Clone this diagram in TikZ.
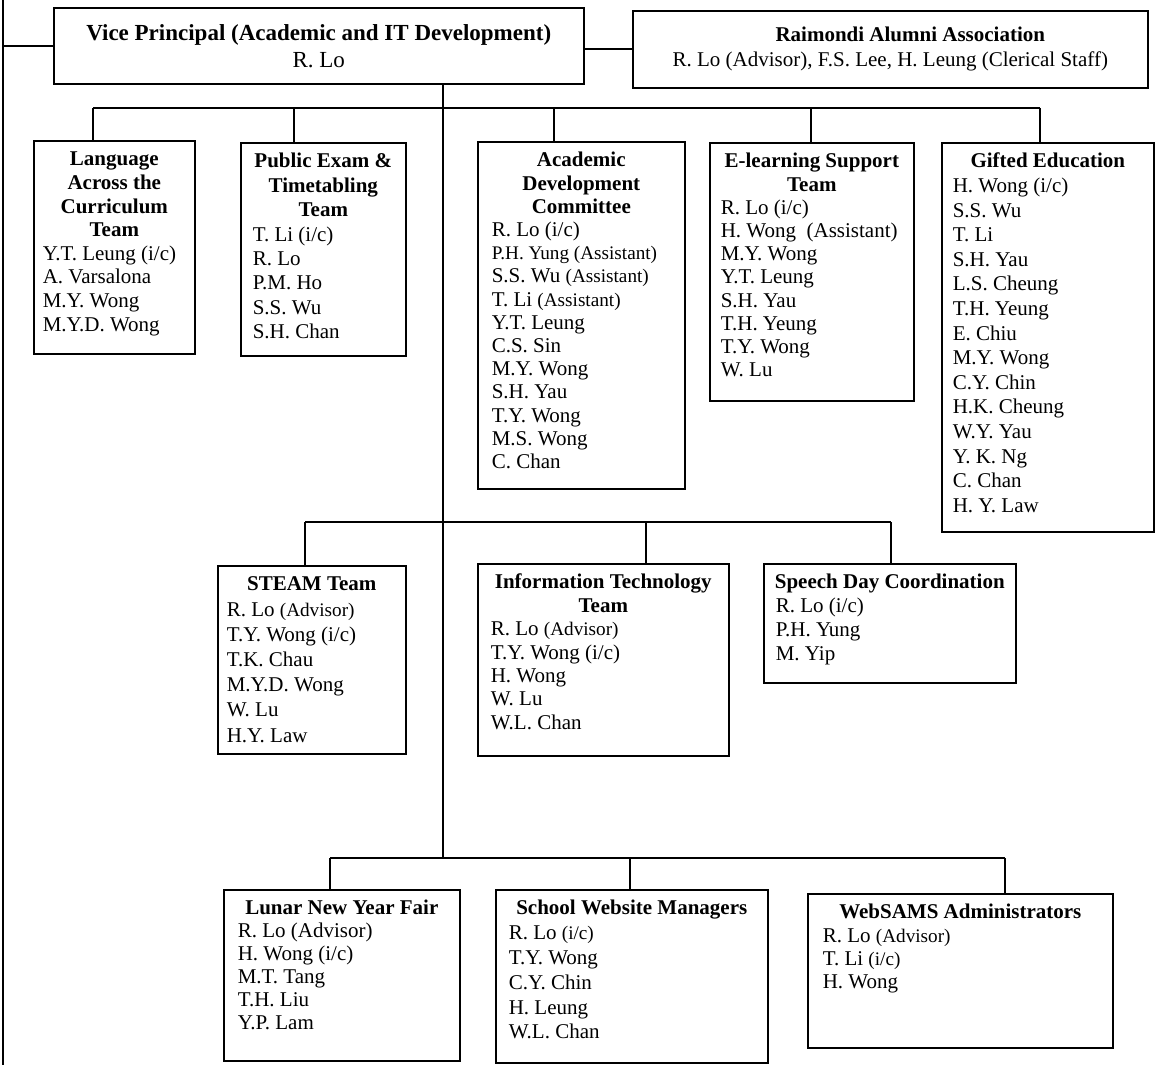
\documentclass[tikz,border=0pt]{standalone}
\usepackage{fontspec}
\setmainfont{Liberation Serif}
\usepackage{tikz}

\newcommand{\minor}[1]{{\fontsize{9.6}{11}\selectfont #1}}
% [pitch]{width px}{height px}{left pad px}{title}{members}
\newcommand{\teambody}[6][11.8pt]{%
  \parbox[t][\dimexpr#3pt/2\relax][t]{\dimexpr#2pt/2\relax}{%
    \fontsize{10.5}{#1}\selectfont
    \centering\bfseries\rule{0pt}{12.5pt}#5\par
    \raggedright\mdseries\leftskip=\dimexpr#4pt/2\relax
    #6\par}}

\tikzset{
  team/.style={draw, line width=0.8pt, anchor=north west, inner sep=0pt},
  head/.style={draw, line width=0.8pt, anchor=north west, align=center},
  link/.style={line width=0.8pt},
}

\begin{document}
\begin{tikzpicture}[x=0.5pt,y=-0.5pt]
  \useasboundingbox (0,0) rectangle (1155,1065);

  % top row
  \node[head, minimum width=265pt, minimum height=38pt,
    font=\fontsize{11.5}{13.5}\selectfont] (vp) at (53,7)
    {\textbf{Vice Principal (Academic and IT Development)}\\R. Lo};
  \node[head, minimum width=257.5pt, minimum height=38.5pt,
    font=\fontsize{10.5}{12.5}\selectfont] (alumni) at (632,10)
    {\hspace*{20pt}\textbf{Raimondi Alumni Association}\\R. Lo (Advisor), F.S. Lee, H. Leung (Clerical Staff)};

  % first level
  \node[team] (lac) at (33,140) {\teambody{161}{213}{9}{Language\\Across the\\Curriculum\\Team}
    {Y.T. Leung (i/c)\\A. Varsalona\\M.Y. Wong\\M.Y.D. Wong}};
  \node[team] (pex) at (240,142) {\teambody[12.2pt]{165}{213}{12}{Public Exam \&\\Timetabling\\Team}
    {T. Li (i/c)\\R. Lo\\P.M. Ho\\S.S. Wu\\S.H. Chan}};
  \node[team] (adc) at (477,141) {\teambody[11.6pt]{207}{347}{14}{Academic\\Development\\Committee}
    {R. Lo (i/c)\\\minor{P.H. Yung (Assistant)}\\S.S. Wu \minor{(Assistant)}\\T. Li \minor{(Assistant)}\\Y.T. Leung\\C.S. Sin\\M.Y. Wong\\S.H. Yau\\T.Y. Wong\\M.S. Wong\\C. Chan}};
  \node[team] (elt) at (709,142) {\teambody[11.6pt]{204}{258}{11}{E-learning Support\\Team}
    {R. Lo (i/c)\\H. Wong\ \ (Assistant)\\M.Y. Wong\\Y.T. Leung\\S.H. Yau\\T.H. Yeung\\T.Y. Wong\\W. Lu}};
  \node[team] (gift) at (941,142) {\teambody[12.3pt]{212}{389}{11}{Gifted Education}
    {H. Wong (i/c)\\S.S. Wu\\T. Li\\S.H. Yau\\L.S. Cheung\\T.H. Yeung\\E. Chiu\\M.Y. Wong\\C.Y. Chin\\H.K. Cheung\\W.Y. Yau\\Y. K. Ng\\C. Chan\\H. Y. Law}};

  % second level
  \node[team] (steam) at (217,565) {\teambody[12.6pt]{188}{188}{9}{STEAM Team}
    {R. Lo \minor{(Advisor)}\\T.Y. Wong (i/c)\\T.K. Chau\\M.Y.D. Wong\\W. Lu\\H.Y. Law}};
  \node[team] (itt) at (477,563) {\teambody[11.7pt]{251}{192}{13}{Information Technology\\Team}
    {R. Lo \minor{(Advisor)}\\T.Y. Wong (i/c)\\H. Wong\\W. Lu\\W.L. Chan}};
  \node[team] (sdc) at (763,563) {\teambody[11.9pt]{252}{119}{12}{Speech Day Coordination}
    {R. Lo (i/c)\\P.H. Yung\\M. Yip}};

  % third level
  \node[team] (lnyf) at (223,889) {\teambody[11.5pt]{236}{171}{14}{Lunar New Year Fair}
    {R. Lo (Advisor)\\H. Wong (i/c)\\M.T. Tang\\T.H. Liu\\Y.P. Lam}};
  \node[team] (swm) at (495,889) {\teambody[12.4pt]{272}{173}{13}{School Website Managers}
    {R. Lo \minor{(i/c)}\\T.Y. Wong\\C.Y. Chin\\H. Leung\\W.L. Chan}};
  \node[team] (wsa) at (807,893) {\teambody[11.6pt]{305}{154}{15}{WebSAMS Administrators}
    {R. Lo \minor{(Advisor)}\\T. Li \minor{(i/c)}\\H. Wong}};

  % bus points
  \coordinate (edgetop) at (3,0);
  \coordinate (edgebot) at (3,1065);
  \coordinate (t1) at (443,108);
  \coordinate (d1) at (93,108);
  \coordinate (d2) at (294,108);
  \coordinate (d3) at (554,108);
  \coordinate (d4) at (811,108);
  \coordinate (d5) at (1040,108);
  \coordinate (m1) at (305,522);
  \coordinate (m2) at (646,522);
  \coordinate (m3) at (891,522);
  \coordinate (b1) at (330,858);
  \coordinate (b2) at (630,858);
  \coordinate (b3) at (1005,858);

  \draw[link] (edgetop) -- (edgebot);
  \draw[link] (vp.west) -- (vp.west -| edgetop);
  \draw[link] (vp.east |- alumni.west) -- (alumni.west);
  \draw[link] (vp.south -| t1) -- (t1 |- b1);
  \draw[link] (d1) -- (d5);
  \foreach \d/\n in {d1/lac, d2/pex, d3/adc, d4/elt, d5/gift}
    \draw[link] (\d) -- (\d |- \n.north);
  \draw[link] (m1) -- (m3);
  \foreach \d/\n in {m1/steam, m2/itt, m3/sdc}
    \draw[link] (\d) -- (\d |- \n.north);
  \draw[link] (b1) -- (b3);
  \foreach \d/\n in {b1/lnyf, b2/swm, b3/wsa}
    \draw[link] (\d) -- (\d |- \n.north);
\end{tikzpicture}
\end{document}
